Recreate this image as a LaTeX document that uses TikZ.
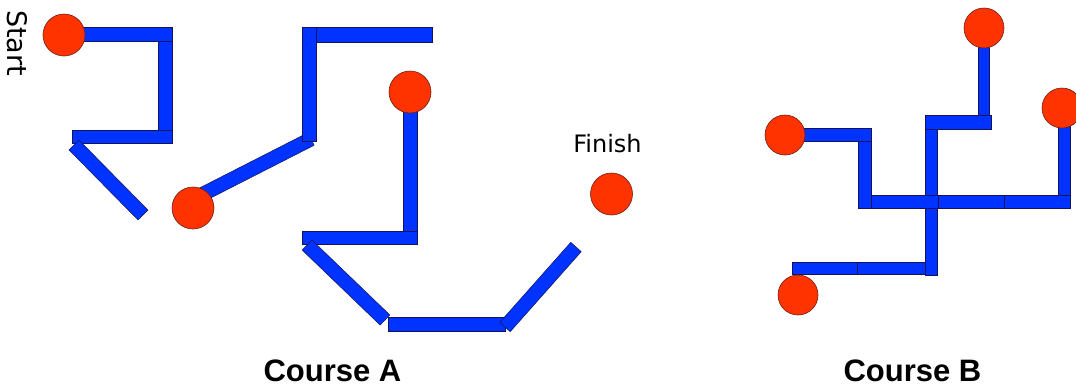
\documentclass[tikz,border=0pt]{standalone}
\usepackage{fontspec}
\setmainfont{Liberation Sans}
\newfontfamily\verd{DejaVu Sans}
\usetikzlibrary{calc}
\definecolor{pipeblue}{RGB}{0,51,255}
\definecolor{pipeedge}{RGB}{20,20,90}
\definecolor{ballred}{RGB}{255,51,0}
\definecolor{balledge}{RGB}{110,30,20}
\tikzset{
  pipe/.style={fill=pipeblue, draw=pipeedge, line width=0.5pt},
  ball/.style={circle, fill=ballred, draw=balledge, line width=0.6pt, inner sep=0pt, minimum size=42pt},
  ballb/.style={ball, minimum size=40pt},
  lbl/.style={font=\verd, inner sep=0pt},
  title/.style={font=\fontsize{31}{36}\selectfont\bfseries, inner sep=0pt, anchor=base, text depth=0pt},
}
% a straight pipe between two named coordinates, half-width #1
\newcommand\pipeseg[3][7pt]{%
  \path[pipe] ($(#2)!#1!90:(#3)$) -- ($(#3)!#1!-90:(#2)$) -- ($(#3)!#1!90:(#2)$) -- ($(#2)!#1!-90:(#3)$) -- cycle;}
\begin{document}
\begin{tikzpicture}[x=1pt,y=-1pt]
\useasboundingbox (0,0) rectangle (1076,386);
% ---------------- Course A ----------------
\coordinate (p1a) at (64,34.5);   \coordinate (p1b) at (172,34.5);
\coordinate (p2a) at (165,41.5);  \coordinate (p2b) at (165,130);
\coordinate (p3a) at (72,137);    \coordinate (p3b) at (172,137);
\coordinate (p4a) at (74,145);    \coordinate (p4b) at (143,215);
\coordinate (p5a) at (200,195.6); \coordinate (p5b) at (311,139);
\coordinate (p6a) at (309.5,27);  \coordinate (p6b) at (309.5,141);
\coordinate (p7a) at (316,34.5);  \coordinate (p7b) at (432,34.5);
\coordinate (p8a) at (410,92);    \coordinate (p8b) at (410,231);
\coordinate (p9a) at (302,237.5); \coordinate (p9b) at (417,237.5);
\coordinate (p10a) at (307,245);  \coordinate (p10b) at (385,320);
\coordinate (p11a) at (388,324);  \coordinate (p11b) at (505,324);
\coordinate (p12a) at (505,327);  \coordinate (p12b) at (576,247);
\pipeseg{p1a}{p1b}
\pipeseg{p2a}{p2b}
\pipeseg[6.5pt]{p3a}{p3b}
\pipeseg{p4a}{p4b}
\pipeseg{p5a}{p5b}
\pipeseg{p6a}{p6b}
\pipeseg[7.5pt]{p7a}{p7b}
\pipeseg{p8a}{p8b}
\pipeseg[6.5pt]{p9a}{p9b}
\pipeseg{p10a}{p10b}
\pipeseg{p11a}{p11b}
\pipeseg{p12a}{p12b}
\node[ball] (start) at (64,35) {};
\node[ball] (mid1) at (193,208) {};
\node[ball] (mid2) at (410,92) {};
\node[ball] (finish) at (611.5,194) {};
\node[lbl, font=\verd\fontsize{27}{30}\selectfont, rotate=-90, anchor=base west] (startlbl) at (8,10) {Start};
\node[lbl, font=\verd\fontsize{24}{28}\selectfont, anchor=base] (finlbl) at (607.5,152) {Finish};
\node[title] (ta) at (332.5,381) {Course A};
% ---------------- Course B ----------------
\path[pipe] (978,28) rectangle (989,115);
\path[pipe] (925,115) rectangle (991,129);
\path[pipe] (925,129) rectangle (937,195);
\path[pipe] (1058,108) rectangle (1070,195);
\path[pipe] (784,128) rectangle (871,141);
\path[pipe] (858,141) rectangle (871,208);
\path[pipe] (871,195) rectangle (938,208);
\path[pipe] (938,195) rectangle (1004,208);
\path[pipe] (1004,195) rectangle (1070,208);
\path[pipe] (925,208) rectangle (937,275);
\path[pipe] (792,262) rectangle (857,274);
\path[pipe] (857,262) rectangle (925,274);
\node[ballb] (btop) at (984,28) {};
\node[ballb] (bright) at (1062,108) {};
\node[ballb] (bleft) at (785,135) {};
\node[ballb] (bbot) at (798,295) {};
\node[title] (tb) at (912.5,381) {Course B};
\end{tikzpicture}
\end{document}
